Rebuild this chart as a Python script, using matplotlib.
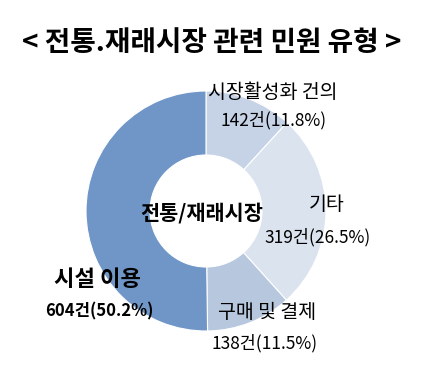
import matplotlib.pyplot as plt

plt.rcParams['font.family'] = ['Noto Sans CJK KR', 'DejaVu Sans']

# Données : types de plaintes (ordre horaire depuis le haut)
categories = ["시장활성화 건의", "기타", "구매 및 결제", "시설 이용"]
nombres = [142, 319, 138, 604]
pourcentages = [11.8, 26.5, 11.5, 50.2]
couleurs = ["#c6d3e6", "#dbe3ef", "#b6c7de", "#7096c8"]

titre = "< 전통.재래시장 관련 민원 유형 >"
centre_label = "전통/재래시장"

fig = plt.figure(figsize=(4.31, 3.73), dpi=100)
ax = fig.add_axes([0, 0, 1, 1])

# Repère en pixels (y vers le haut)
cx, cy = 206, 373 - 211
ax.pie(nombres, colors=couleurs, startangle=90, counterclock=False,
       center=(cx, cy), radius=120, frame=True,
       wedgeprops=dict(width=64, edgecolor="white", linewidth=0.8))
ax.set_xlim(0, 431)
ax.set_ylim(0, 373)
ax.set_aspect('auto')
ax.axis('off')

# Positions des étiquettes (pixels)
pos_nom = [(273, 92), (327, 205), (267, 312), (98, 279)]
pos_val = [(274, 120), (318, 237), (265, 343), (99, 311)]

for i, cat in enumerate(categories):
    gras = cat == "시설 이용"
    ax.text(pos_nom[i][0], 373 - pos_nom[i][1], cat, ha="center", va="center",
            fontsize=16 if gras else 14, fontweight="bold" if gras else "normal",
            color="black")
    ax.text(pos_val[i][0], 373 - pos_val[i][1], f"{nombres[i]}건({pourcentages[i]}%)",
            ha="center", va="center", fontsize=12 if gras else 12.5,
            fontweight="bold" if gras else "normal", color="black")

ax.text(202, 373 - 213, centre_label, ha="center", va="center",
        fontsize=15, fontweight="bold")

fig.text(212 / 431, 1 - 43 / 373, titre, ha="center", va="center",
         fontsize=20, fontweight="bold")

fig.savefig("out.png", dpi=100)
